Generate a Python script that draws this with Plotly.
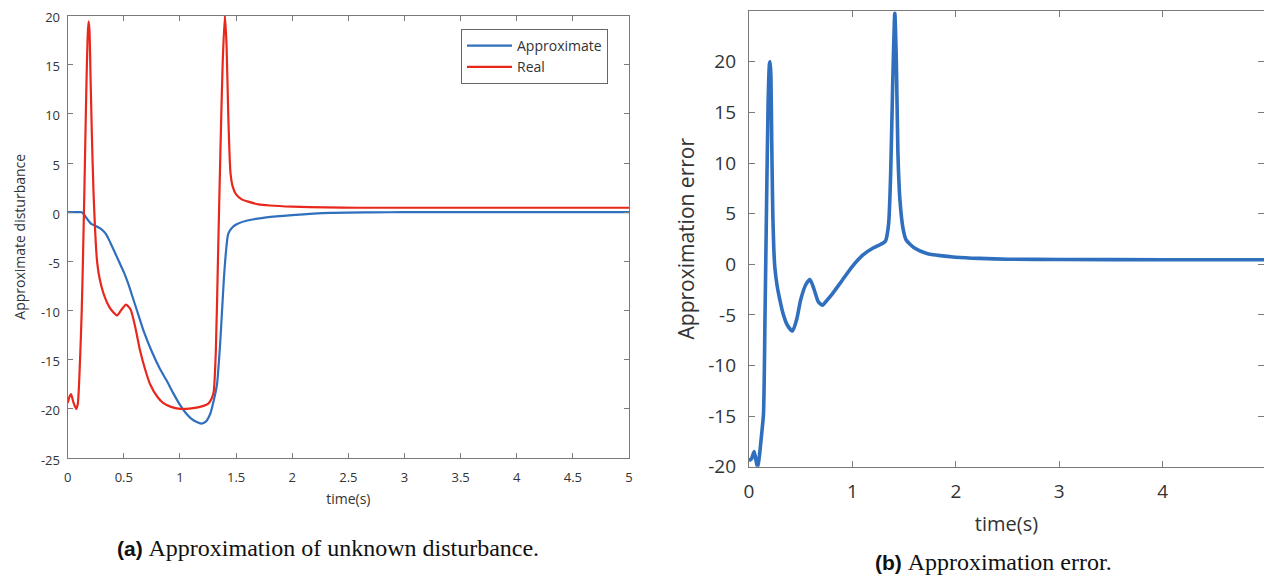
import plotly.graph_objects as go

# ---------------- data ----------------
# (a) Real disturbance
t_real = [0, 0.015, 0.03, 0.05, 0.075, 0.09, 0.11, 0.125, 0.136, 0.15, 0.165, 0.178, 0.186,
          0.194, 0.203, 0.215, 0.23, 0.245, 0.26, 0.28, 0.32, 0.38, 0.44, 0.48, 0.52, 0.56,
          0.6, 0.645, 0.69, 0.734, 0.8, 0.85, 0.92, 1.0, 1.1, 1.21, 1.25, 1.28, 1.30, 1.32,
          1.34, 1.36, 1.38, 1.40, 1.415, 1.43, 1.45, 1.47, 1.5, 1.55, 1.6, 1.7, 1.8, 2.0,
          2.3, 2.6, 3.0, 4.0, 5.0]
v_real = [-19.4, -18.8, -18.5, -19.3, -20.0, -19.5, -15, -10, -4.75, 3, 12, 18, 19.4,
          18.5, 14, 8, 2, -2, -4.8, -6.5, -8.3, -9.8, -10.5, -9.9, -9.4, -9.9,
          -11.6, -14.1, -16.0, -17.5, -18.8, -19.4, -19.8, -20.0, -19.95, -19.7, -19.5, -19.0, -18.3, -14,
          -4, 6, 15, 20, 17, 10, 4, 2.6, 1.8, 1.3, 1.1, 0.8, 0.68, 0.56,
          0.48, 0.45, 0.45, 0.45, 0.45]

# (a) Approximate disturbance
t_apx = [0, 0.1, 0.125, 0.15, 0.18, 0.21, 0.25, 0.29, 0.34, 0.38, 0.42, 0.46, 0.5, 0.54,
         0.58, 0.62, 0.68, 0.75, 0.82, 0.88, 0.94, 1.0, 1.05, 1.1, 1.15, 1.19, 1.23, 1.27,
         1.3, 1.33, 1.36, 1.39, 1.41, 1.43, 1.47, 1.51, 1.6, 1.77, 2.0, 2.34, 2.7, 3.0, 4.0, 5.0]
v_apx = [0, 0, -0.02, -0.3, -0.8, -1.2, -1.4, -1.65, -2.2, -3.1, -4.1, -5.1, -6.1, -7.3,
         -8.7, -10.1, -12.2, -14.2, -15.9, -17.1, -18.4, -19.6, -20.4, -21.0, -21.35, -21.5, -21.3, -20.5,
         -19.2, -17.5, -13, -7, -4, -2.2, -1.5, -1.2, -0.85, -0.53, -0.3, -0.07, -0.02, 0, 0, 0]

# (b) Approximation error
t_err = [0, 0.025, 0.05, 0.07, 0.084, 0.1, 0.12, 0.14, 0.155, 0.17, 0.185, 0.198, 0.205,
         0.212, 0.22, 0.23, 0.24, 0.25, 0.27, 0.30, 0.33, 0.37, 0.42, 0.46, 0.5, 0.55,
         0.59, 0.63, 0.67, 0.71, 0.75, 0.8, 0.9, 1.0, 1.1, 1.2, 1.27, 1.32, 1.35, 1.37,
         1.39, 1.41, 1.425, 1.44, 1.46, 1.49, 1.52, 1.6, 1.72, 1.85, 2.0, 2.23, 2.5, 3.0,
         4.0, 5.0]
v_err = [-19.4, -19.2, -18.5, -19.5, -20.1, -19.0, -17.0, -14.8, -5, 6, 16, 19.8, 20,
         18.5, 12, 5, 1.5, -0.3, -2.0, -3.6, -4.9, -6.0, -6.6, -5.5, -3.5, -2.0,
         -1.5, -2.5, -3.7, -4.05, -3.6, -3.0, -1.6, -0.2, 0.9, 1.6, 1.95, 2.3, 4, 9,
         18, 24.8, 20, 11, 6.3, 3.5, 2.4, 1.6, 1.07, 0.85, 0.7, 0.58, 0.5, 0.47,
         0.45, 0.45]

xticks_a = [0, 0.5, 1, 1.5, 2, 2.5, 3, 3.5, 4, 4.5, 5]
yticks_a = [-25, -20, -15, -10, -5, 0, 5, 10, 15, 20]
xticks_b = [0, 1, 2, 3, 4]
yticks_b = [-20, -15, -10, -5, 0, 5, 10, 15, 20]


def lab(vals):
    return [("%g" % v) for v in vals]   # plain hyphen-minus, as in the reference


BLUE = "#2f6fbd"
RED = "#e8281c"
AXC = "#7a7a7a"
TXT = "#333333"
FONT = "Open Sans"

# the page body has an 8px margin; the figure is sized so the page is exactly 1272x584
OFF = 8
FW, FH = 1272 - 2 * OFF, 584 - 2 * OFF


def fx(p):
    return min(1.0, max(0.0, (p - OFF) / FW))


def fy(p):
    return min(1.0, max(0.0, 1 - (p - OFF) / FH))


fig = go.Figure()
fig.add_trace(go.Scatter(x=t_apx, y=v_apx, mode="lines", name="Approximate",
                         line=dict(color=BLUE, width=2.2, shape="spline", smoothing=0.6),
                         xaxis="x", yaxis="y"))
fig.add_trace(go.Scatter(x=t_real, y=v_real, mode="lines", name="Real",
                         line=dict(color=RED, width=2.2, shape="spline", smoothing=0.6),
                         xaxis="x", yaxis="y"))
fig.add_trace(go.Scatter(x=t_err, y=v_err, mode="lines", name="Approximation error",
                         line=dict(color=BLUE, width=3.6, shape="spline", smoothing=0.6),
                         xaxis="x2", yaxis="y2", showlegend=False))


def ax(**kw):
    base = dict(showgrid=False, zeroline=False, showline=True, linecolor=AXC, linewidth=1.2,
                mirror="ticks", ticks="inside", tickcolor=AXC, automargin=False,
                ticklabeloverflow="allow")
    base.update(kw)
    return base


fig.update_layout(
    width=FW, height=FH, margin=dict(l=0, r=0, t=0, b=0),
    paper_bgcolor="white", plot_bgcolor="white",
    font=dict(family=FONT, color=TXT),
    xaxis=ax(domain=[fx(67.7), fx(629)], range=[0, 5], tickvals=xticks_a, ticktext=lab(xticks_a),
             ticklen=5, tickfont=dict(size=13, color=TXT), ticklabelstandoff=7,
             title=dict(text="time(s)", font=dict(size=14, color=TXT), standoff=9),
             anchor="y"),
    yaxis=ax(domain=[fy(458), fy(15.5)], range=[-25, 20], tickvals=yticks_a, ticktext=lab(yticks_a),
             ticklen=5, tickfont=dict(size=13, color=TXT), ticklabelstandoff=4, ticklabelshift=2,
             title=dict(text="Approximate disturbance", font=dict(size=14, color=TXT), standoff=12),
             anchor="x"),
    xaxis2=ax(domain=[fx(749), fx(1265)], range=[0, 4.98], tickvals=xticks_b, ticktext=lab(xticks_b),
              ticklen=6, tickfont=dict(size=19, color=TXT), ticklabelstandoff=7,
              title=dict(text="time(s)", font=dict(size=20, color=TXT), standoff=14),
              anchor="y2"),
    yaxis2=ax(domain=[fy(466.7), fy(10.7)], range=[-20, 25.05], tickvals=yticks_b, ticktext=lab(yticks_b),
              ticklen=6, tickfont=dict(size=19, color=TXT), ticklabelstandoff=8,
              title=dict(text="Approximation error", font=dict(size=21, color=TXT), standoff=7),
              anchor="x2"),
    legend=dict(x=fx(461), y=fy(29), xanchor="left", yanchor="top",
                bgcolor="white", bordercolor="#666666", borderwidth=1,
                font=dict(size=14, color=TXT, family=FONT), tracegroupgap=0,
                itemwidth=45),
    showlegend=True,
)

fig.add_annotation(
    xref="paper", yref="paper", x=fx(328), y=fy(548), xanchor="center", yanchor="middle",
    showarrow=False,
    text="<b>(a)</b> <span style=\"font-family:'Liberation Serif';font-size:24px\">Approximation of unknown disturbance.</span>",
    font=dict(family="Liberation Sans", size=21, color="#111111"),
)
fig.add_annotation(
    xref="paper", yref="paper", x=fx(993), y=0, xanchor="center", yanchor="bottom",
    showarrow=False, borderpad=0,
    text="<b>(b)</b> <span style=\"font-family:'Liberation Serif';font-size:24px\">Approximation error.</span>",
    font=dict(family="Liberation Sans", size=21, color="#111111"),
)

fig.write_html("out.html")
